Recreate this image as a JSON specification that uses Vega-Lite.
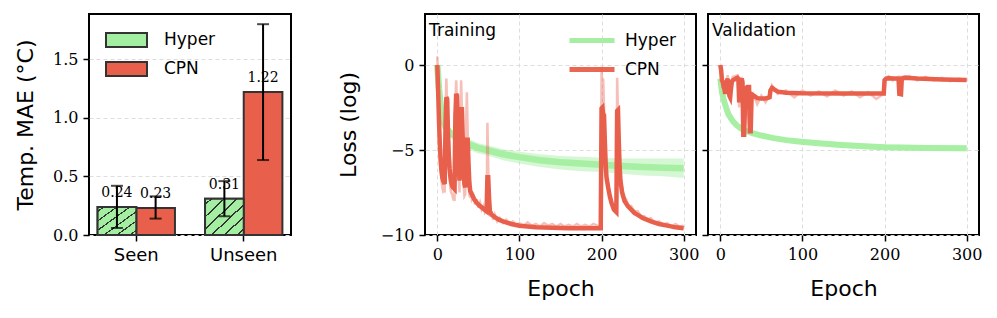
{
  "$schema": "https://vega.github.io/schema/vega-lite/v6.json",
  "padding": {"left": 13, "top": 13, "right": 0, "bottom": 0},
  "background": "white",
  "datasets": {
    "bars": [
      {"g": "Seen", "m": "Hyper", "v": 0.24, "lo": 0.06, "hi": 0.42},
      {"g": "Seen", "m": "CPN", "v": 0.23, "lo": 0.14, "hi": 0.33},
      {"g": "Unseen", "m": "Hyper", "v": 0.31, "lo": 0.16, "hi": 0.46},
      {"g": "Unseen", "m": "CPN", "v": 1.22, "lo": 0.64, "hi": 1.80}
    ],
    "tr_hyper": [
      {"m":"Hyper","e":0,"v":0},{"m":"Hyper","e":2,"v":-1.4},{"m":"Hyper","e":4,"v":-2.4},{"m":"Hyper","e":6,"v":-3.0},{"m":"Hyper","e":8,"v":-3.4},{"m":"Hyper","e":10,"v":-3.65},{"m":"Hyper","e":15,"v":-3.95},{"m":"Hyper","e":20,"v":-4.15},{"m":"Hyper","e":30,"v":-4.45},{"m":"Hyper","e":40,"v":-4.7},{"m":"Hyper","e":50,"v":-4.88},{"m":"Hyper","e":60,"v":-5.0},{"m":"Hyper","e":80,"v":-5.25},{"m":"Hyper","e":100,"v":-5.42},{"m":"Hyper","e":125,"v":-5.6},{"m":"Hyper","e":150,"v":-5.72},{"m":"Hyper","e":175,"v":-5.8},{"m":"Hyper","e":200,"v":-5.87},{"m":"Hyper","e":225,"v":-5.94},{"m":"Hyper","e":250,"v":-6.0},{"m":"Hyper","e":275,"v":-6.05},{"m":"Hyper","e":300,"v":-6.08}
    ],
    "tr_band": [
      {"e":0,"lo":-0.1,"hi":0.1},{"e":2,"lo":-1.6,"hi":-1.2},{"e":4,"lo":-2.6,"hi":-2.2},{"e":6,"lo":-3.2,"hi":-2.8},{"e":8,"lo":-3.6,"hi":-3.2},{"e":10,"lo":-3.9,"hi":-3.4},{"e":15,"lo":-4.2,"hi":-3.7},{"e":20,"lo":-4.45,"hi":-3.9},{"e":30,"lo":-4.75,"hi":-4.15},{"e":40,"lo":-5.0,"hi":-4.4},{"e":50,"lo":-5.2,"hi":-4.6},{"e":60,"lo":-5.3,"hi":-4.7},{"e":80,"lo":-5.6,"hi":-4.95},{"e":100,"lo":-5.8,"hi":-5.1},{"e":125,"lo":-6.0,"hi":-5.25},{"e":150,"lo":-6.15,"hi":-5.35},{"e":175,"lo":-6.25,"hi":-5.4},{"e":200,"lo":-6.3,"hi":-5.45},{"e":225,"lo":-6.4,"hi":-5.5},{"e":250,"lo":-6.5,"hi":-5.5},{"e":275,"lo":-6.55,"hi":-5.5},{"e":300,"lo":-6.65,"hi":-5.5}
    ],
    "tr_cpn": [
      {"m":"CPN","e":0,"v":0},{"m":"CPN","e":1,"v":-1.5},{"m":"CPN","e":2,"v":-3.2},{"m":"CPN","e":3,"v":-4.6},{"m":"CPN","e":4,"v":-5.6},{"m":"CPN","e":5,"v":-6.2},{"m":"CPN","e":6,"v":-6.6},{"m":"CPN","e":7,"v":-6.8},{"m":"CPN","e":8,"v":-6.9},{"m":"CPN","e":9,"v":-7.0},{"m":"CPN","e":10,"v":-3.5},{"m":"CPN","e":11,"v":-1.9},{"m":"CPN","e":12,"v":-2.0},{"m":"CPN","e":13,"v":-4.0},{"m":"CPN","e":14,"v":-5.3},{"m":"CPN","e":15,"v":-6.1},{"m":"CPN","e":16,"v":-6.6},{"m":"CPN","e":17,"v":-6.9},{"m":"CPN","e":18,"v":-7.1},{"m":"CPN","e":19,"v":-7.2},{"m":"CPN","e":21,"v":-7.3},{"m":"CPN","e":22,"v":-3.0},{"m":"CPN","e":23,"v":-1.7},{"m":"CPN","e":24,"v":-1.8},{"m":"CPN","e":25,"v":-4.0},{"m":"CPN","e":26,"v":-5.8},{"m":"CPN","e":27,"v":-6.8},{"m":"CPN","e":28,"v":-5.0},{"m":"CPN","e":29,"v":-2.6},{"m":"CPN","e":30,"v":-2.6},{"m":"CPN","e":31,"v":-4.5},{"m":"CPN","e":32,"v":-6.2},{"m":"CPN","e":33,"v":-7.0},{"m":"CPN","e":34,"v":-7.2},{"m":"CPN","e":35,"v":-6.0},{"m":"CPN","e":36,"v":-4.4},{"m":"CPN","e":37,"v":-4.4},{"m":"CPN","e":38,"v":-5.8},{"m":"CPN","e":39,"v":-6.9},{"m":"CPN","e":40,"v":-7.4},{"m":"CPN","e":42,"v":-7.6},{"m":"CPN","e":45,"v":-7.9},{"m":"CPN","e":48,"v":-8.1},{"m":"CPN","e":52,"v":-8.3},{"m":"CPN","e":56,"v":-8.45},{"m":"CPN","e":60,"v":-8.6},{"m":"CPN","e":61,"v":-6.6},{"m":"CPN","e":62,"v":-6.6},{"m":"CPN","e":63,"v":-7.8},{"m":"CPN","e":64,"v":-8.6},{"m":"CPN","e":66,"v":-8.8},{"m":"CPN","e":70,"v":-8.95},{"m":"CPN","e":75,"v":-9.1},{"m":"CPN","e":80,"v":-9.2},{"m":"CPN","e":90,"v":-9.35},{"m":"CPN","e":100,"v":-9.45},{"m":"CPN","e":110,"v":-9.5},{"m":"CPN","e":120,"v":-9.55},{"m":"CPN","e":140,"v":-9.58},{"m":"CPN","e":160,"v":-9.6},{"m":"CPN","e":199,"v":-9.6},{"m":"CPN","e":200,"v":-2.55},{"m":"CPN","e":201,"v":-2.5},{"m":"CPN","e":202,"v":-2.9},{"m":"CPN","e":203,"v":-2.95},{"m":"CPN","e":204,"v":-4.5},{"m":"CPN","e":205,"v":-5.8},{"m":"CPN","e":206,"v":-6.6},{"m":"CPN","e":208,"v":-7.2},{"m":"CPN","e":210,"v":-7.7},{"m":"CPN","e":212,"v":-8.1},{"m":"CPN","e":215,"v":-8.5},{"m":"CPN","e":218,"v":-8.65},{"m":"CPN","e":219,"v":-2.7},{"m":"CPN","e":220,"v":-2.65},{"m":"CPN","e":221,"v":-4.5},{"m":"CPN","e":222,"v":-6.0},{"m":"CPN","e":223,"v":-6.8},{"m":"CPN","e":225,"v":-7.5},{"m":"CPN","e":228,"v":-8.0},{"m":"CPN","e":232,"v":-8.3},{"m":"CPN","e":236,"v":-8.5},{"m":"CPN","e":240,"v":-8.7},{"m":"CPN","e":245,"v":-8.85},{"m":"CPN","e":250,"v":-9.0},{"m":"CPN","e":255,"v":-9.1},{"m":"CPN","e":260,"v":-9.2},{"m":"CPN","e":270,"v":-9.35},{"m":"CPN","e":280,"v":-9.45},{"m":"CPN","e":290,"v":-9.55},{"m":"CPN","e":300,"v":-9.6}
    ],
    "tr_cpn_raw": [
      {"e":0,"v":0.5},{"e":1,"v":-1.0},{"e":2,"v":-3.0},{"e":3,"v":-4.8},{"e":4,"v":-5.9},{"e":5,"v":-6.7},{"e":6,"v":-7.2},{"e":7,"v":-7.4},{"e":8,"v":-7.3},{"e":9,"v":-7.5},{"e":10,"v":-2.5},{"e":11,"v":-0.8},{"e":12,"v":-2.5},{"e":13,"v":-4.5},{"e":14,"v":-5.8},{"e":15,"v":-6.7},{"e":16,"v":-7.3},{"e":17,"v":-7.5},{"e":18,"v":-7.6},{"e":19,"v":-7.8},{"e":20,"v":-7.7},{"e":21,"v":-8.0},{"e":22,"v":-2.0},{"e":23,"v":-0.9},{"e":24,"v":-2.6},{"e":25,"v":-5.0},{"e":26,"v":-6.5},{"e":27,"v":-7.5},{"e":28,"v":-3.0},{"e":29,"v":-0.9},{"e":30,"v":-2.8},{"e":31,"v":-5.2},{"e":32,"v":-7.0},{"e":33,"v":-7.7},{"e":34,"v":-7.6},{"e":35,"v":-3.5},{"e":36,"v":-1.6},{"e":37,"v":-4.0},{"e":38,"v":-6.5},{"e":39,"v":-7.6},{"e":40,"v":-7.8},{"e":41,"v":-7.4},{"e":42,"v":-7.9},{"e":44,"v":-7.7},{"e":46,"v":-8.2},{"e":48,"v":-7.9},{"e":50,"v":-8.4},{"e":52,"v":-8.1},{"e":54,"v":-8.5},{"e":56,"v":-8.3},{"e":58,"v":-8.7},{"e":60,"v":-8.6},{"e":61,"v":-3.4},{"e":62,"v":-6.0},{"e":63,"v":-8.3},{"e":64,"v":-8.9},{"e":66,"v":-8.6},{"e":68,"v":-9.1},{"e":70,"v":-8.8},{"e":73,"v":-9.2},{"e":76,"v":-9.0},{"e":80,"v":-9.3},{"e":84,"v":-9.1},{"e":88,"v":-9.35},{"e":92,"v":-9.2},{"e":96,"v":-9.4},{"e":100,"v":-9.3},{"e":105,"v":-9.45},{"e":110,"v":-9.25},{"e":115,"v":-9.45},{"e":120,"v":-9.35},{"e":125,"v":-9.5},{"e":130,"v":-9.3},{"e":135,"v":-9.45},{"e":140,"v":-9.35},{"e":145,"v":-9.5},{"e":150,"v":-9.35},{"e":155,"v":-9.5},{"e":160,"v":-9.4},{"e":165,"v":-9.5},{"e":170,"v":-9.35},{"e":175,"v":-9.5},{"e":180,"v":-9.4},{"e":185,"v":-9.5},{"e":190,"v":-9.35},{"e":195,"v":-9.45},{"e":199,"v":-9.5},{"e":200,"v":-0.1},{"e":201,"v":-1.5},{"e":202,"v":-0.8},{"e":203,"v":-2.5},{"e":204,"v":-4.8},{"e":205,"v":-6.0},{"e":206,"v":-6.7},{"e":208,"v":-7.0},{"e":210,"v":-7.6},{"e":212,"v":-7.9},{"e":214,"v":-8.3},{"e":216,"v":-8.4},{"e":218,"v":-8.7},{"e":219,"v":-0.75},{"e":220,"v":-2.8},{"e":221,"v":-5.0},{"e":222,"v":-6.2},{"e":223,"v":-6.9},{"e":225,"v":-7.2},{"e":227,"v":-7.8},{"e":230,"v":-7.9},{"e":233,"v":-8.3},{"e":236,"v":-8.3},{"e":240,"v":-8.6},{"e":244,"v":-8.6},{"e":248,"v":-8.9},{"e":252,"v":-8.9},{"e":256,"v":-9.1},{"e":260,"v":-9.0},{"e":265,"v":-9.3},{"e":270,"v":-9.2},{"e":275,"v":-9.4},{"e":280,"v":-9.3},{"e":285,"v":-9.5},{"e":290,"v":-9.35},{"e":295,"v":-9.5},{"e":300,"v":-9.45}
    ],
    "va_hyper": [
      {"m":"Hyper","e":0,"v":-0.8},{"m":"Hyper","e":2,"v":-1.6},{"m":"Hyper","e":4,"v":-2.0},{"m":"Hyper","e":6,"v":-2.35},{"m":"Hyper","e":8,"v":-2.65},{"m":"Hyper","e":10,"v":-2.9},{"m":"Hyper","e":13,"v":-3.14},{"m":"Hyper","e":16,"v":-3.35},{"m":"Hyper","e":20,"v":-3.55},{"m":"Hyper","e":25,"v":-3.73},{"m":"Hyper","e":30,"v":-3.85},{"m":"Hyper","e":38,"v":-4.0},{"m":"Hyper","e":50,"v":-4.15},{"m":"Hyper","e":65,"v":-4.3},{"m":"Hyper","e":80,"v":-4.42},{"m":"Hyper","e":98,"v":-4.51},{"m":"Hyper","e":120,"v":-4.6},{"m":"Hyper","e":147,"v":-4.7},{"m":"Hyper","e":175,"v":-4.78},{"m":"Hyper","e":200,"v":-4.84},{"m":"Hyper","e":250,"v":-4.88},{"m":"Hyper","e":300,"v":-4.9}
    ],
    "va_cpn": [
      {"m":"CPN","e":0,"v":0},{"m":"CPN","e":1,"v":-0.3},{"m":"CPN","e":2,"v":-0.9},{"m":"CPN","e":3,"v":-1.0},{"m":"CPN","e":4,"v":-1.3},{"m":"CPN","e":5,"v":-1.4},{"m":"CPN","e":6,"v":-1.7},{"m":"CPN","e":7,"v":-1.2},{"m":"CPN","e":8,"v":-0.95},{"m":"CPN","e":9,"v":-0.8},{"m":"CPN","e":10,"v":-1.3},{"m":"CPN","e":11,"v":-1.8},{"m":"CPN","e":12,"v":-1.9},{"m":"CPN","e":13,"v":-1.4},{"m":"CPN","e":14,"v":-1.0},{"m":"CPN","e":15,"v":-0.9},{"m":"CPN","e":17,"v":-0.85},{"m":"CPN","e":19,"v":-0.8},{"m":"CPN","e":21,"v":-0.75},{"m":"CPN","e":22,"v":-0.8},{"m":"CPN","e":23,"v":-2.2},{"m":"CPN","e":24,"v":-1.2},{"m":"CPN","e":26,"v":-0.8},{"m":"CPN","e":27,"v":-1.0},{"m":"CPN","e":28,"v":-4.1},{"m":"CPN","e":29,"v":-4.1},{"m":"CPN","e":30,"v":-2.5},{"m":"CPN","e":31,"v":-1.4},{"m":"CPN","e":33,"v":-1.3},{"m":"CPN","e":35,"v":-1.3},{"m":"CPN","e":36,"v":-3.9},{"m":"CPN","e":37,"v":-3.9},{"m":"CPN","e":38,"v":-2.0},{"m":"CPN","e":39,"v":-1.75},{"m":"CPN","e":42,"v":-1.85},{"m":"CPN","e":45,"v":-1.95},{"m":"CPN","e":50,"v":-1.97},{"m":"CPN","e":55,"v":-1.97},{"m":"CPN","e":60,"v":-1.9},{"m":"CPN","e":61,"v":-1.5},{"m":"CPN","e":63,"v":-1.35},{"m":"CPN","e":66,"v":-1.45},{"m":"CPN","e":70,"v":-1.57},{"m":"CPN","e":80,"v":-1.63},{"m":"CPN","e":98,"v":-1.66},{"m":"CPN","e":150,"v":-1.67},{"m":"CPN","e":199,"v":-1.68},{"m":"CPN","e":200,"v":-0.9},{"m":"CPN","e":202,"v":-0.8},{"m":"CPN","e":205,"v":-0.78},{"m":"CPN","e":217,"v":-0.8},{"m":"CPN","e":218,"v":-1.7},{"m":"CPN","e":220,"v":-1.72},{"m":"CPN","e":221,"v":-0.8},{"m":"CPN","e":225,"v":-0.75},{"m":"CPN","e":240,"v":-0.8},{"m":"CPN","e":270,"v":-0.85},{"m":"CPN","e":300,"v":-0.88}
    ],
    "va_cpn_raw": [
      {"e":0,"v":0},{"e":2,"v":-0.7},{"e":5,"v":-1.6},{"e":9,"v":-0.6},{"e":12,"v":-2.1},{"e":15,"v":-0.7},{"e":21,"v":-0.6},{"e":23,"v":-2.5},{"e":26,"v":-0.7},{"e":28,"v":-4.2},{"e":31,"v":-1.2},{"e":36,"v":-4.0},{"e":39,"v":-1.6},{"e":45,"v":-2.3},{"e":50,"v":-1.8},{"e":55,"v":-2.2},{"e":60,"v":-1.8},{"e":63,"v":-1.2},{"e":70,"v":-1.7},{"e":80,"v":-1.5},{"e":90,"v":-1.9},{"e":100,"v":-1.5},{"e":110,"v":-1.8},{"e":120,"v":-1.55},{"e":130,"v":-1.85},{"e":140,"v":-1.5},{"e":150,"v":-1.8},{"e":160,"v":-1.55},{"e":170,"v":-1.9},{"e":180,"v":-1.6},{"e":190,"v":-2.0},{"e":199,"v":-1.7},{"e":200,"v":-0.8},{"e":205,"v":-0.65},{"e":210,"v":-0.9},{"e":217,"v":-0.7},{"e":219,"v":-1.8},{"e":221,"v":-0.7},{"e":230,"v":-0.65},{"e":240,"v":-0.9},{"e":250,"v":-0.7},{"e":260,"v":-0.9},{"e":270,"v":-0.75},{"e":280,"v":-0.95},{"e":290,"v":-0.8},{"e":300,"v":-0.9}
    ],
    "va_band": [
      {"e":0,"lo":-0.9,"hi":-0.7},{"e":2,"lo":-1.7,"hi":-1.5},{"e":4,"lo":-2.1,"hi":-1.9},{"e":6,"lo":-2.45,"hi":-2.25},{"e":8,"lo":-2.75,"hi":-2.55},{"e":10,"lo":-3.0,"hi":-2.8},{"e":13,"lo":-3.25,"hi":-3.03},{"e":16,"lo":-3.46,"hi":-3.24},{"e":20,"lo":-3.66,"hi":-3.44},{"e":25,"lo":-3.85,"hi":-3.61},{"e":30,"lo":-3.97,"hi":-3.73},{"e":38,"lo":-4.13,"hi":-3.87},{"e":50,"lo":-4.28,"hi":-4.02},{"e":65,"lo":-4.44,"hi":-4.16},{"e":80,"lo":-4.56,"hi":-4.28},{"e":98,"lo":-4.66,"hi":-4.36},{"e":120,"lo":-4.75,"hi":-4.45},{"e":147,"lo":-4.86,"hi":-4.54},{"e":175,"lo":-4.94,"hi":-4.62},{"e":200,"lo":-5.0,"hi":-4.68},{"e":250,"lo":-5.05,"hi":-4.71},{"e":300,"lo":-5.07,"hi":-4.73}
    ]
  },
  "config": {
    "view": {"stroke": "black", "strokeWidth": 2},
    "axis": {
      "domain": false, "tickColor": "black", "tickSize": 6, "tickWidth": 1.5,
      "labelFont": "DejaVu Serif", "labelFontSize": 16, "labelColor": "black",
      "titleFont": "DejaVu Sans", "titleFontSize": 22, "titleFontWeight": "normal", "titleColor": "black",
      "gridColor": "#dddddd", "gridDash": [4, 3], "gridWidth": 1
    },
    "legend": {"labelFont": "DejaVu Sans", "labelFontSize": 17, "labelColor": "black"},
    "title": {"font": "DejaVu Sans", "fontSize": 17, "fontWeight": "normal", "color": "black"}
  },
  "resolve": {"scale": {"color": "independent", "strokeWidth": "independent"}, "legend": {"color": "independent"}},
  "spacing": 44,
  "hconcat": [
    {
      "width": 202, "height": 221,
      "data": {"name": "bars"},
      "encoding": {
        "x": {"field": "g", "type": "nominal", "sort": ["Seen", "Unseen"],
              "scale": {"paddingInner": 0.28, "paddingOuter": 0.08},
              "axis": {"title": null, "labelAngle": 0, "labelFont": "DejaVu Sans", "labelFontSize": 18, "labelPadding": 5, "grid": false}},
        "xOffset": {"field": "m", "type": "nominal", "sort": ["Hyper", "CPN"], "scale": {"domain": ["Hyper", "CPN"], "paddingInner": 0, "paddingOuter": 0}}
      },
      "layer": [
        {
          "mark": {"type": "bar", "stroke": "#333333", "strokeWidth": 2},
          "encoding": {
            "y": {"field": "v", "type": "quantitative", "scale": {"domain": [0, 1.887], "nice": false},
                  "axis": {"title": "Temp. MAE (°C)", "values": [0, 0.5, 1, 1.5], "format": ".1f", "grid": true, "titlePadding": 15, "labelPadding": 5}},
            "fill": {"field": "m", "type": "nominal", "sort": ["Hyper", "CPN"],
                     "scale": {"domain": ["Hyper", "CPN"], "range": ["#a3eea0", "#e8604b"]},
                     "legend": {"title": null, "orient": "none", "legendX": 16, "legendY": 11.5, "padding": 0,
                                "symbolType": "M-1,-0.34H1V0.34H-1Z", "symbolSize": 1681,
                                "symbolStrokeColor": "#333333", "symbolStrokeWidth": 2, "symbolOpacity": 1,
                                "labelOffset": 16, "rowPadding": 0, "clipHeight": 29, "labelFontSize": 17}}
          }
        },
        {
          "transform": [{"filter": "datum.m === 'Hyper'"}],
          "mark": {"type": "bar", "stroke": "#333333", "strokeWidth": 2,
                   "fill": {"gradient": "linear", "x1": 0, "y1": 0, "x2": 1, "y2": 1, "stops": [
                     {"offset": 0, "color": "#a3eea0"},
                     {"offset": 0.07, "color": "#a3eea0"}, {"offset": 0.07, "color": "#333333"}, {"offset": 0.096, "color": "#333333"}, {"offset": 0.096, "color": "#a3eea0"},
                     {"offset": 0.237, "color": "#a3eea0"}, {"offset": 0.237, "color": "#333333"}, {"offset": 0.263, "color": "#333333"}, {"offset": 0.263, "color": "#a3eea0"},
                     {"offset": 0.404, "color": "#a3eea0"}, {"offset": 0.404, "color": "#333333"}, {"offset": 0.43, "color": "#333333"}, {"offset": 0.43, "color": "#a3eea0"},
                     {"offset": 0.57, "color": "#a3eea0"}, {"offset": 0.57, "color": "#333333"}, {"offset": 0.596, "color": "#333333"}, {"offset": 0.596, "color": "#a3eea0"},
                     {"offset": 0.737, "color": "#a3eea0"}, {"offset": 0.737, "color": "#333333"}, {"offset": 0.763, "color": "#333333"}, {"offset": 0.763, "color": "#a3eea0"},
                     {"offset": 0.904, "color": "#a3eea0"}, {"offset": 0.904, "color": "#333333"}, {"offset": 0.93, "color": "#333333"}, {"offset": 0.93, "color": "#a3eea0"},
                     {"offset": 1, "color": "#a3eea0"}]}},
          "encoding": {"y": {"field": "v", "type": "quantitative"}}
        },
        {
          "mark": {"type": "rule", "color": "black", "strokeWidth": 2},
          "encoding": {"y": {"field": "lo", "type": "quantitative"}, "y2": {"field": "hi"}}
        },
        {
          "mark": {"type": "tick", "color": "black", "size": 12, "thickness": 2},
          "encoding": {"y": {"field": "lo", "type": "quantitative"}}
        },
        {
          "mark": {"type": "tick", "color": "black", "size": 12, "thickness": 2},
          "encoding": {"y": {"field": "hi", "type": "quantitative"}}
        },
        {
          "mark": {"type": "text", "dy": -10, "baseline": "alphabetic", "font": "DejaVu Serif", "fontSize": 14, "color": "black"},
          "encoding": {"y": {"field": "v", "type": "quantitative"}, "text": {"field": "v", "type": "quantitative", "format": ".2f"}}
        }
      ]
    },
    {
      "spacing": 0,
      "resolve": {"scale": {"color": "independent", "strokeWidth": "independent"}, "legend": {"color": "independent"}},
      "hconcat": [
        {
          "width": 271, "height": 221,
          "title": {"text": "Training", "anchor": "start", "orient": "top", "frame": "group", "offset": -26, "dx": 4},
          "layer": [
            {
              "data": {"name": "tr_band"},
              "mark": {"type": "area", "color": "#a3eea0", "opacity": 0.45, "clip": true},
              "encoding": {
                "x": {"field": "e", "type": "quantitative", "scale": {"domain": [-15, 315], "nice": false},
                      "axis": {"title": "Epoch", "values": [0, 100, 200, 300], "grid": true, "labelPadding": 5, "titlePadding": 16}},
                "y": {"field": "lo", "type": "quantitative", "scale": {"domain": [-10, 3], "nice": false},
                      "axis": {"title": "Loss (log)", "values": [-10, -5, 0], "grid": true, "titlePadding": 20, "labelPadding": 5,
                               "labelExpr": "datum.value < 0 ? '−' + abs(datum.value) : datum.label"}},
                "y2": {"field": "hi"}
              }
            },
            {
              "data": {"name": "tr_hyper"},
              "mark": {"type": "line", "strokeWidth": 6.5, "opacity": 0.95, "clip": true},
              "encoding": {
                "x": {"field": "e", "type": "quantitative"},
                "y": {"field": "v", "type": "quantitative"},
                "color": {"field": "m", "type": "nominal",
                          "scale": {"domain": ["Hyper", "CPN"], "range": ["#a3eea0", "#e8604b"]},
                          "legend": {"title": null, "orient": "none", "legendX": 142, "legendY": 12, "padding": 0,
                                     "symbolType": "stroke", "symbolSize": 2025, "symbolStrokeWidth": 5,
                                     "labelOffset": 8, "rowPadding": 0, "clipHeight": 29, "labelFontSize": 17}}
              }
            },
            {
              "data": {"name": "tr_cpn_raw"},
              "mark": {"type": "line", "strokeWidth": 2.5, "color": "#e8604b", "opacity": 0.4, "clip": true},
              "encoding": {"x": {"field": "e", "type": "quantitative"}, "y": {"field": "v", "type": "quantitative"}}
            },
            {
              "data": {"name": "tr_cpn"},
              "mark": {"type": "line", "strokeWidth": 4.5, "clip": true},
              "encoding": {
                "x": {"field": "e", "type": "quantitative"},
                "y": {"field": "v", "type": "quantitative"},
                "color": {"field": "m", "type": "nominal"}
              }
            }
          ]
        },
        {
          "width": 271, "height": 221,
          "title": {"text": "Validation", "anchor": "start", "orient": "top", "frame": "group", "offset": -26, "dx": 4},
          "layer": [
            {
              "data": {"name": "va_band"},
              "mark": {"type": "area", "color": "#a3eea0", "opacity": 0.45, "clip": true},
              "encoding": {
                "x": {"field": "e", "type": "quantitative", "scale": {"domain": [-15, 315], "nice": false},
                      "axis": {"title": "Epoch", "values": [0, 100, 200, 300], "grid": true, "labelPadding": 5, "titlePadding": 16}},
                "y": {"field": "lo", "type": "quantitative", "scale": {"domain": [-10, 3], "nice": false},
                      "axis": {"title": null, "values": [-10, -5, 0], "grid": true, "labels": false}},
                "y2": {"field": "hi"}
              }
            },
            {
              "data": {"name": "va_hyper"},
              "mark": {"type": "line", "strokeWidth": 6, "opacity": 0.95, "clip": true},
              "encoding": {
                "x": {"field": "e", "type": "quantitative"},
                "y": {"field": "v", "type": "quantitative"},
                "color": {"field": "m", "type": "nominal",
                          "scale": {"domain": ["Hyper", "CPN"], "range": ["#a3eea0", "#e8604b"]}, "legend": null}
              }
            },
            {
              "data": {"name": "va_cpn_raw"},
              "mark": {"type": "line", "strokeWidth": 2.5, "color": "#e8604b", "opacity": 0.4, "clip": true},
              "encoding": {"x": {"field": "e", "type": "quantitative"}, "y": {"field": "v", "type": "quantitative"}}
            },
            {
              "data": {"name": "va_cpn"},
              "mark": {"type": "line", "strokeWidth": 4.5, "clip": true},
              "encoding": {
                "x": {"field": "e", "type": "quantitative"},
                "y": {"field": "v", "type": "quantitative"},
                "color": {"field": "m", "type": "nominal", "legend": null}
              }
            }
          ]
        }
      ]
    }
  ]
}
